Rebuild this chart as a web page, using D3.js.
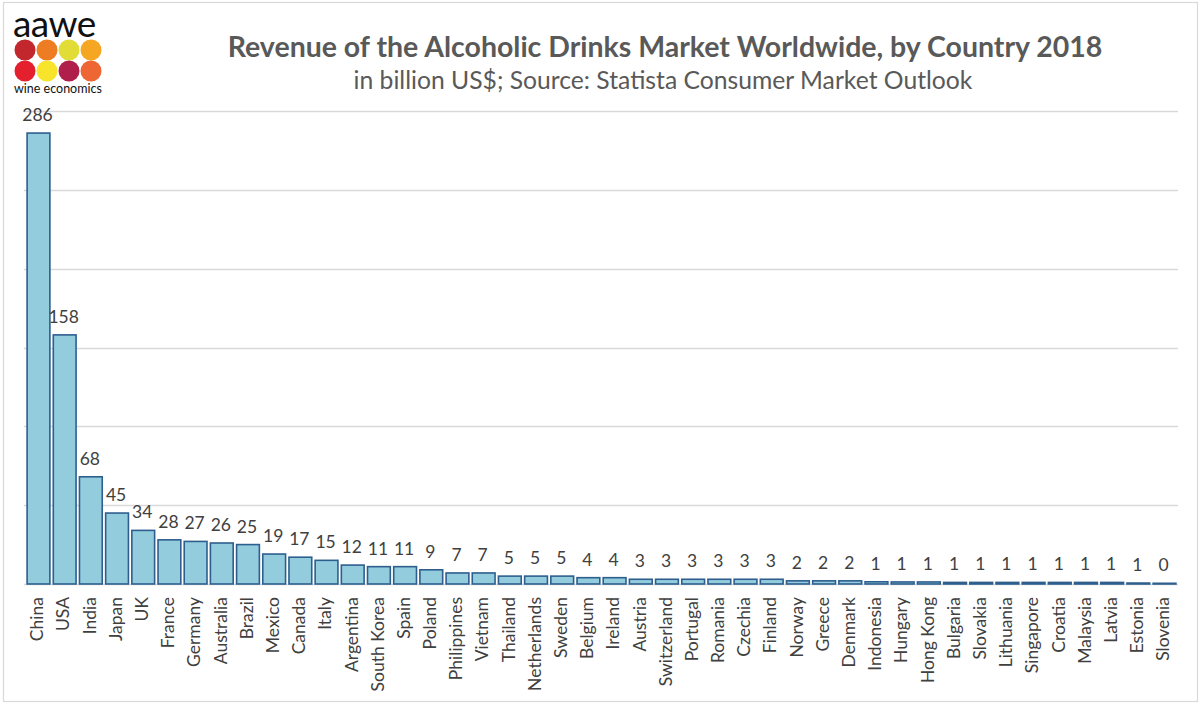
<!DOCTYPE html>
<html><head><meta charset="utf-8">
<script src="https://cdn.jsdelivr.net/npm/d3@7"></script>
<style>html,body{margin:0;padding:0;background:#fff;}svg{display:block;}</style>
</head><body>
<svg id="chart" width="1200" height="705"></svg>
<script>
const countries = ["China","USA","India","Japan","UK","France","Germany","Australia","Brazil","Mexico","Canada","Italy","Argentina","South Korea","Spain","Poland","Philippines","Vietnam","Thailand","Netherlands","Sweden","Belgium","Ireland","Austria","Switzerland","Portugal","Romania","Czechia","Finland","Norway","Greece","Denmark","Indonesia","Hungary","Hong Kong","Bulgaria","Slovakia","Lithuania","Singapore","Croatia","Malaysia","Latvia","Estonia","Slovenia"];
const revenue = [286,158,68,45,34,28,27,26,25,19,17,15,12,11,11,9,7,7,5,5,5,4,4,3,3,3,3,3,3,2,2,2,1.4,1.3,1.3,1.0,1.0,1.0,1.0,1.0,1.0,1.0,0.6,0.45];
const yTicks = [0,50,100,150,200,250,300];
const title = "Revenue of the Alcoholic Drinks Market Worldwide, by Country 2018";
const subtitle = "in billion US$; Source: Statista Consumer Market Outlook";
const logoColors = ["#C1272D","#EE7C22","#E2DC36","#F5A623","#E4202F","#F8E52B","#B01E4B","#EE6634"];

const svg = d3.select("#chart");
const font = "Lato, 'Open Sans', sans-serif";

// frame
svg.append("rect").attr("x",3.5).attr("y",2.5).attr("width",1194).attr("height",699)
  .attr("fill","#fff").attr("stroke","#d9d9d9").attr("stroke-width",1.2);

const x = d3.scaleBand().domain(countries).range([25,1178]).paddingInner(0.13).paddingOuter(0.08);
const y = d3.scaleLinear().domain([0,300]).range([584,111]);

// gridlines
svg.append("g").selectAll("line").data(yTicks).join("line")
  .attr("x1",24).attr("x2",1178)
  .attr("y1",d=>Math.round(y(d))+0.5).attr("y2",d=>Math.round(y(d))+0.5)
  .attr("stroke","#d9d9d9").attr("stroke-width",1.3);

// bars
svg.append("g").selectAll("rect").data(countries).join("rect")
  .attr("x",(d)=>x(d))
  .attr("width",x.bandwidth())
  .attr("y",(d,i)=>y(revenue[i]))
  .attr("height",(d,i)=>y(0)-y(revenue[i]))
  .attr("fill","#93CDDD").attr("stroke","#2E5E8E").attr("stroke-width",1.6);

// value labels
svg.append("g").selectAll("text").data(countries).join("text")
  .attr("x",d=>x(d)+x.bandwidth()/2-1)
  .attr("y",(d,i)=>y(revenue[i])-12)
  .attr("text-anchor","middle")
  .attr("font-family",font).attr("font-size",17.5).attr("fill","#404040")
  .text((d,i)=>Math.round(revenue[i]));

// category labels (x axis)
const xAxis = d3.axisBottom(x).tickSize(0).tickPadding(0);
const gx = svg.append("g").attr("transform","translate(0,584)").call(xAxis);
gx.select(".domain").remove();
gx.selectAll("text")
  .attr("font-family",font).attr("font-size",17.5).attr("fill","#404040")
  .attr("transform","rotate(-90)")
  .attr("x",-13).attr("y",0).attr("dy","0.33em")
  .attr("text-anchor","end");
gx.selectAll(".tick").attr("transform",d=>`translate(${x(d)+x.bandwidth()/2-1},0)`);

// title
const t1 = svg.append("text").attr("x",665).attr("y",57).attr("text-anchor","middle")
  .attr("font-family",font).attr("font-weight",700).attr("font-size",27).attr("fill","#595959").text(title);
const w1 = t1.node().getComputedTextLength();
t1.attr("font-size",27*875/w1);
const t2 = svg.append("text").attr("x",663).attr("y",89).attr("text-anchor","middle")
  .attr("font-family",font).attr("font-size",22).attr("fill","#595959").text(subtitle);
const w2 = t2.node().getComputedTextLength();
t2.attr("font-size",22*619/w2);

// logo
svg.append("text").attr("x",13).attr("y",36.5).attr("font-family",font).attr("font-size",37)
  .attr("fill","#111").attr("letter-spacing",-0.6).text("aawe");
svg.append("g").selectAll("circle").data(logoColors).join("circle")
  .attr("cx",(d,i)=>25+(i%4)*22).attr("cy",(d,i)=>50+Math.floor(i/4)*21)
  .attr("r",10.5).attr("fill",d=>d);
svg.append("text").attr("x",14).attr("y",93).attr("font-family",font).attr("font-size",12.5)
  .attr("fill","#111").text("wine economics");
</script>
</body></html>
